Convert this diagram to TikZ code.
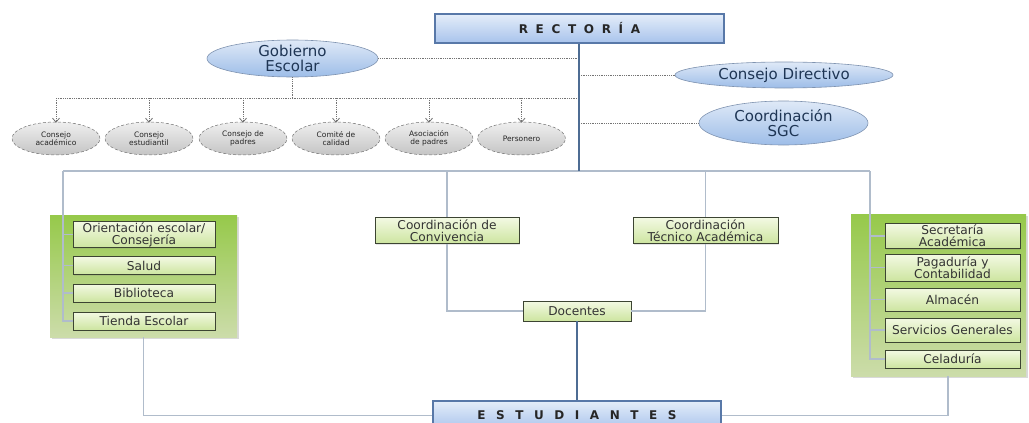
\documentclass[tikz,border=0pt]{standalone}
\usepackage{fontspec}
\setmainfont{DejaVu Sans}
\newfontfamily\headfont[LetterSpace=64]{DejaVu Sans}
\newfontfamily\footfont[LetterSpace=88]{DejaVu Sans}
\usetikzlibrary{arrows.meta, positioning, shapes.geometric, shadows}

\definecolor{headtop}{HTML}{E4EDF9}
\definecolor{headbot}{HTML}{A8C3EC}
\definecolor{headline}{HTML}{5878A8}
\definecolor{elltop}{HTML}{DFE9F7}
\definecolor{ellbot}{HTML}{9DBDE8}
\definecolor{ellline}{HTML}{7F93B0}
\definecolor{elltext}{HTML}{1E3554}
\definecolor{greytop}{HTML}{EFEFEF}
\definecolor{greybot}{HTML}{C4C4C4}
\definecolor{paneltop}{HTML}{96C94A}
\definecolor{panelbot}{HTML}{CCDCAA}
\definecolor{unittop}{HTML}{F3F9E3}
\definecolor{unitbot}{HTML}{CDE5A0}
\definecolor{unitline}{HTML}{3C4432}
\definecolor{linkgrey}{HTML}{B0BCCB}
\definecolor{trunkblue}{HTML}{4D6C93}

\tikzset{
  headbox/.style={rectangle, draw=headline, line width=1.5pt, top color=headtop, bottom color=headbot,
    minimum width=289, minimum height=29, text=black!85, font=\fontsize{12}{14}\selectfont,
    drop shadow={opacity=0.25, shadow xshift=1pt, shadow yshift=-1pt}},
  blueell/.style={ellipse, draw=ellline, line width=0.6pt, top color=elltop, bottom color=ellbot,
    text=elltext, font=\fontsize{15}{14.5}\selectfont},
  greyell/.style={ellipse, draw=black!55, densely dashed, line width=0.5pt, top color=greytop, bottom color=greybot,
    minimum width=88, minimum height=33, text=black!85, font=\fontsize{7.5}{8.5}\selectfont},
  panel/.style={rectangle, top color=paneltop, bottom color=panelbot,
    drop shadow={opacity=0.3, shadow xshift=1.5pt, shadow yshift=-1.5pt}},
  unit/.style={rectangle, draw=unitline, line width=0.9pt, top color=unittop, bottom color=unitbot,
    text=black!80, font=\fontsize{12.2}{12}\selectfont,
    drop shadow={opacity=0.2, shadow xshift=1pt, shadow yshift=-1pt}},
  trunk/.style={draw=trunkblue, line width=2pt},
  link/.style={draw=linkgrey, line width=1.3pt},
  dotlink/.style={draw=black!55, densely dotted, line width=0.8pt}
}

\begin{document}
\begin{tikzpicture}[x=1pt, y=-1pt, every node/.style={inner sep=0pt, align=center}]
  \useasboundingbox (0,0) rectangle (1029,423);

  % Top of the chart
  \node[headbox] (rect) at (579.5,28.5) {\headfont\bfseries RECTORÍA};
  \node[blueell, minimum width=171, minimum height=37] (gob) at (292.5,58.5) {Gobierno\\Escolar};
  \node[blueell, minimum width=218, minimum height=26] (cdir) at (784,75) {Consejo Directivo};
  \node[blueell, minimum width=169, minimum height=44] (sgc) at (783.5,123) {Coordinación\\SGC};

  % School government bodies
  \node[greyell] (cac) at (56,138.5) {Consejo\\académico};
  \node[greyell] (ces) at (149,138.5) {Consejo\\estudiantil};
  \node[greyell] (cpa) at (243,138.5) {Consejo de\\padres};
  \node[greyell] (cca) at (336,138.5) {Comité de\\calidad};
  \node[greyell] (apa) at (429,138.5) {Asociación\\de padres};
  \node[greyell] (per) at (521.5,138.5) {Personero};

  % Green panels
  \node[panel, minimum width=187, minimum height=122] (lpanel) at (143.5,276) {};
  \node[panel, minimum width=175, minimum height=162] (rpanel) at (938.5,295) {};

  % Units on the left panel
  \node[unit, minimum width=142, minimum height=26] (ori) at (144,234.5) {Orientación escolar/\\Consejería};
  \node[unit, minimum width=142, minimum height=18] (sal) at (144,265.5) {Salud};
  \node[unit, minimum width=142, minimum height=18] (bib) at (144,293) {Biblioteca};
  \node[unit, minimum width=142, minimum height=18] (tie) at (144,321) {Tienda Escolar};

  % Units on the right panel
  \node[unit, minimum width=135, minimum height=25] (sec) at (952.5,236) {Secretaría\\Académica};
  \node[unit, minimum width=135, minimum height=27] (pag) at (952.5,267.5) {Pagaduría y\\Contabilidad};
  \node[unit, minimum width=135, minimum height=23] (alm) at (952.5,299.5) {Almacén};
  \node[unit, minimum width=135, minimum height=24] (ser) at (952.5,330) {Servicios Generales};
  \node[unit, minimum width=135, minimum height=18] (cel) at (952.5,359) {Celaduría};

  % Middle units
  \node[unit, minimum width=144, minimum height=26] (conv) at (447,230.5) {Coordinación de\\Convivencia};
  \node[unit, minimum width=145, minimum height=26] (tec) at (705.5,230.5) {Coordinación\\Técnico Académica};
  \node[unit, minimum width=108, minimum height=20] (doc) at (577,311) {Docentes};
  \node[headbox, minimum width=288] (est) at (577,415.5) {\footfont\bfseries ESTUDIANTES};

  \coordinate (bus) at (292.5,98);
  \coordinate (fork) at (579,171);
  \coordinate (lfork) at (63,171);
  \coordinate (rfork) at (870,171);
  \coordinate (rdrop) at (948,376);

  % Dotted links to the rector line
  \draw[dotlink] (gob.east) -- (gob.east -| fork);
  \draw[dotlink] (cdir.west -| fork) -- (cdir.west);
  \draw[dotlink] (sgc.west -| fork) -- (sgc.west);
  \draw[dotlink] (gob.south) -- (bus);
  \draw[dotlink] (cac.north |- bus) -- (bus -| fork);
  \foreach \n in {cac,ces,cpa,cca,apa,per}
    \draw[dotlink, -{Straight Barb[length=4pt, width=7pt]}] (\n.north |- bus) -- ([yshift=-1]\n.north);

  % Grey links
  \draw[link] (lfork) -- (rfork);
  \draw[link] (lfork) |- (tie.west);
  \foreach \n in {ori,sal,bib}
    \draw[link] (\n.west -| lfork) -- (\n.west);
  \draw[link] (rfork) |- (cel.west);
  \foreach \n in {sec,pag,alm,ser}
    \draw[link] (\n.west -| rfork) -- (\n.west);
  \draw[link] (conv.north |- fork) -- (conv.north);
  \draw[link] (conv.south) |- (doc.west);
  \draw[link] (tec.north |- fork) -- (tec.north);
  \draw[link] (tec.south) |- (doc.east);
  \draw[link] (lpanel.south) |- (est.west);
  \draw[link] (rdrop) |- (est.east);

  % Blue trunk
  \draw[trunk] (rect.south -| fork) -- (fork);
  \draw[trunk] (doc.south) -- (est.north);
\end{tikzpicture}
\end{document}
